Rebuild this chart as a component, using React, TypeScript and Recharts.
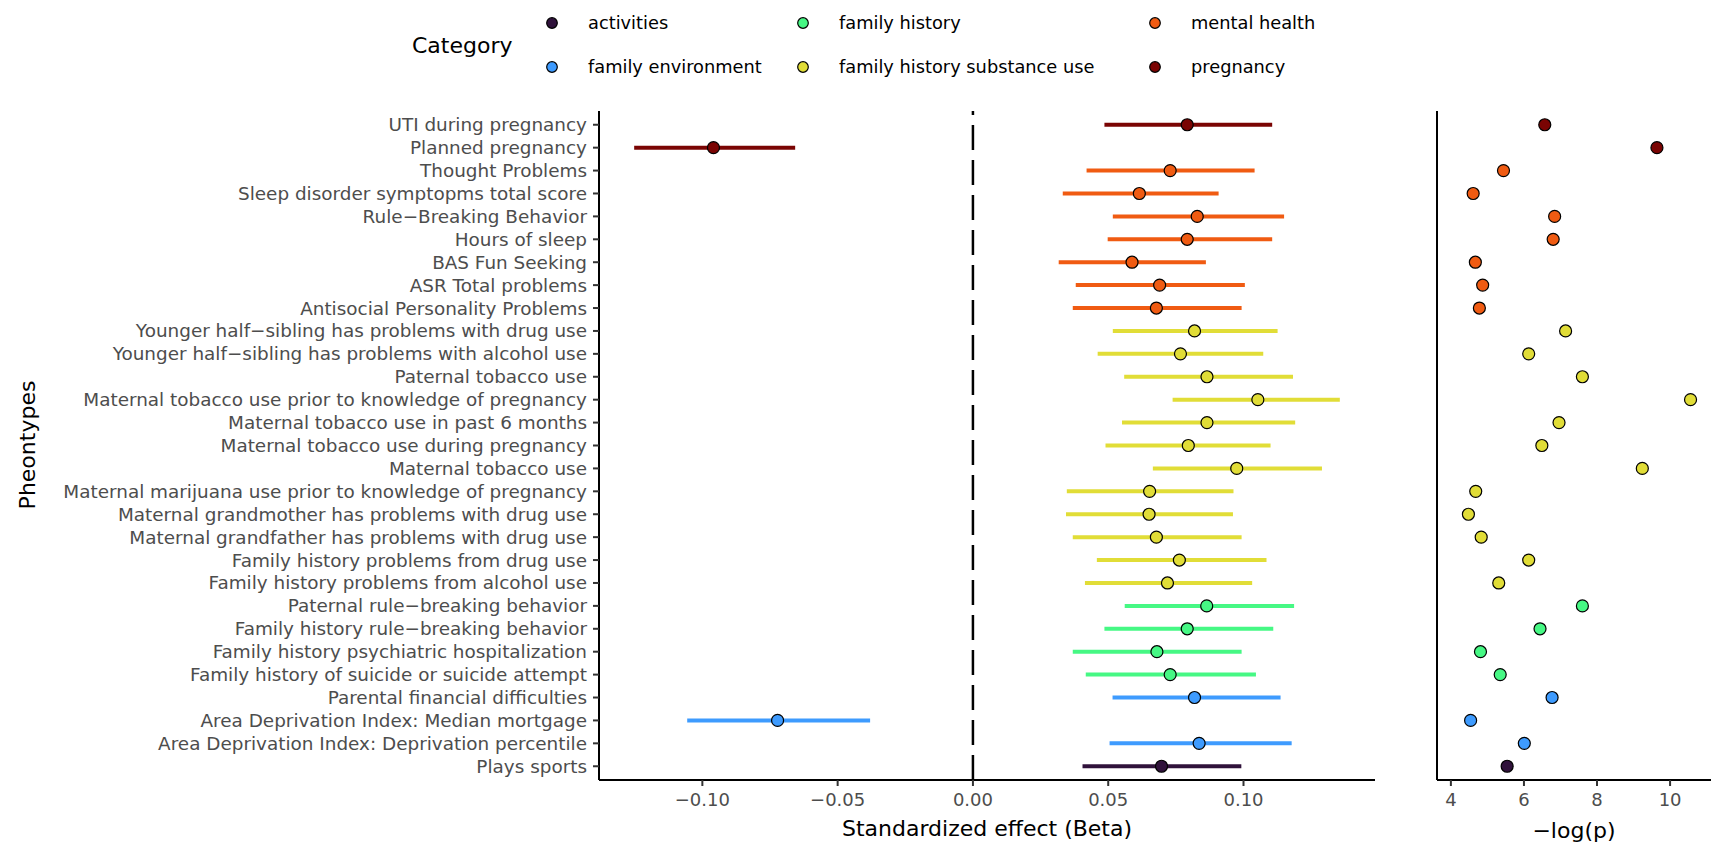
import { ScatterChart, Scatter, XAxis, YAxis, ErrorBar, ReferenceLine } from 'recharts';

const phenotypes = [
  'UTI during pregnancy',
  'Planned pregnancy',
  'Thought Problems',
  'Sleep disorder symptopms total score',
  'Rule\u2212Breaking Behavior',
  'Hours of sleep',
  'BAS Fun Seeking',
  'ASR Total problems',
  'Antisocial Personality Problems',
  'Younger half\u2212sibling has problems with drug use',
  'Younger half\u2212sibling has problems with alcohol use',
  'Paternal tobacco use',
  'Maternal tobacco use prior to knowledge of pregnancy',
  'Maternal tobacco use in past 6 months',
  'Maternal tobacco use during pregnancy',
  'Maternal tobacco use',
  'Maternal marijuana use prior to knowledge of pregnancy',
  'Maternal grandmother has problems with drug use',
  'Maternal grandfather has problems with drug use',
  'Family history problems from drug use',
  'Family history problems from alcohol  use',
  'Paternal rule\u2212breaking behavior',
  'Family history rule\u2212breaking behavior',
  'Family history psychiatric hospitalization',
  'Family history of suicide or suicide attempt',
  'Parental financial difficulties',
  'Area Deprivation Index: Median mortgage',
  'Area Deprivation Index: Deprivation percentile',
  'Plays sports',
];

const rowCategory = [
  'pregnancy', 'pregnancy',
  'mental health', 'mental health', 'mental health', 'mental health',
  'mental health', 'mental health', 'mental health',
  'family history substance use', 'family history substance use', 'family history substance use',
  'family history substance use', 'family history substance use', 'family history substance use',
  'family history substance use', 'family history substance use', 'family history substance use',
  'family history substance use', 'family history substance use', 'family history substance use',
  'family history', 'family history', 'family history', 'family history',
  'family environment', 'family environment', 'family environment',
  'activities',
];

const beta = [
  0.0792, -0.0959, 0.0729, 0.0615, 0.0829, 0.0792, 0.0588, 0.069, 0.0678,
  0.0819, 0.0767, 0.0865, 0.1053, 0.0865, 0.0796, 0.0975, 0.0653, 0.0651,
  0.0678, 0.0763, 0.0719, 0.0864, 0.0792, 0.068, 0.0729, 0.0819, -0.0722,
  0.0836, 0.0697,
];

const betaLow = [
  0.0486, -0.1252, 0.042, 0.0332, 0.0517, 0.0498, 0.0317, 0.038, 0.0369,
  0.0517, 0.0461, 0.0559, 0.0738, 0.0551, 0.049, 0.0665, 0.0347, 0.0344,
  0.0369, 0.0458, 0.0414, 0.0561, 0.0486, 0.0369, 0.0417, 0.0516, -0.1056,
  0.0505, 0.0405,
];

const betaHigh = [
  0.1106, -0.0657, 0.1041, 0.0908, 0.115, 0.1106, 0.0861, 0.1005, 0.0993,
  0.1126, 0.1073, 0.1183, 0.1356, 0.1191, 0.11, 0.129, 0.0963, 0.0961,
  0.0993, 0.1085, 0.1032, 0.1187, 0.111, 0.0993, 0.1046, 0.1137, -0.038,
  0.1178, 0.0992,
];

const negLogP = [
  6.57, 9.64, 5.44, 4.61, 6.84, 6.8, 4.67, 4.87, 4.78,
  7.14, 6.13, 7.6, 10.56, 6.96, 6.49, 9.24, 4.68, 4.48,
  4.83, 6.13, 5.31, 7.6, 6.44, 4.81, 5.35, 6.77, 4.54,
  6.01, 5.54,
];

const categories = [
  'activities',
  'family environment',
  'family history',
  'family history substance use',
  'mental health',
  'pregnancy',
];

const categoryColors = ['#30123B', '#3E9BFE', '#46F884', '#E1DD37', '#F05B12', '#7A0403'];

const betaTicks = [-0.1, -0.05, 0, 0.05, 0.1];
const pTicks = [4, 6, 8, 10];

const rows = phenotypes.map((name, i) => ({
  name,
  y: i,
  category: rowCategory[i],
  beta: beta[i],
  err: [beta[i] - betaLow[i], betaHigh[i] - beta[i]],
  logp: negLogP[i],
}));

const rowIndex = phenotypes.map((_, i) => i);

const FONT = '"DejaVu Sans", sans-serif';
const TEXT_GREY = '#4D4D4D';

const fmtBeta = (v: number) => v.toFixed(2).replace('-', '\u2212');

function Dot(props: any) {
  const { cx, cy, fill } = props;
  return <circle cx={cx} cy={cy} r={6} fill={fill} stroke="#000" strokeWidth={1.2} />;
}

function RowLabel(props: any) {
  const { x, y, payload } = props;
  return (
    <text x={x} y={y} dy="0.355em" textAnchor="end" fill={TEXT_GREY} fontSize={18.4} fontFamily={FONT}>
      {phenotypes[payload.value]}
    </text>
  );
}

const tickStyle = { fill: TEXT_GREY, fontSize: 18, fontFamily: FONT };
const axisLine = { stroke: '#000', strokeWidth: 2 };
const tickLine = { stroke: '#333', strokeWidth: 2 };

function EffectPanel() {
  return (
    <ScatterChart width={1390} height={843} margin={{ top: 111, right: 15, bottom: 33, left: 0 }}>
      <XAxis
        type="number"
        dataKey="beta"
        domain={[-0.1382, 0.1486]}
        allowDataOverflow
        ticks={betaTicks}
        tickFormatter={fmtBeta}
        height={30}
        tickSize={6}
        tickMargin={7}
        tick={tickStyle}
        axisLine={axisLine}
        tickLine={tickLine}
      />
      <YAxis
        type="number"
        dataKey="y"
        domain={[-0.6, 28.6]}
        allowDataOverflow
        reversed
        ticks={rowIndex}
        interval={0}
        width={599}
        tickSize={6}
        tickMargin={6}
        tick={<RowLabel />}
        axisLine={axisLine}
        tickLine={tickLine}
      />
      <ReferenceLine x={0} stroke="#000" strokeWidth={2.5} strokeDasharray="25 10" />
      {categories.map((cat, ci) => (
        <Scatter
          key={cat}
          data={rows.filter((r) => r.category === cat)}
          fill={categoryColors[ci]}
          shape={<Dot />}
          isAnimationActive={false}
        >
          <ErrorBar
            dataKey="err"
            direction="x"
            width={0}
            stroke={categoryColors[ci]}
            strokeWidth={4}
            isAnimationActive={false}
          />
        </Scatter>
      ))}
    </ScatterChart>
  );
}

function PValuePanel() {
  return (
    <ScatterChart width={321} height={843} margin={{ top: 111, right: 0, bottom: 33, left: 0 }}>
      <XAxis
        type="number"
        dataKey="logp"
        domain={[3.62, 11.12]}
        allowDataOverflow
        ticks={pTicks}
        height={30}
        tickSize={6}
        tickMargin={7}
        tick={tickStyle}
        axisLine={axisLine}
        tickLine={tickLine}
      />
      <YAxis
        type="number"
        dataKey="y"
        domain={[-0.6, 28.6]}
        allowDataOverflow
        reversed
        ticks={rowIndex}
        interval={0}
        width={47}
        tickSize={6}
        tick={false}
        axisLine={axisLine}
        tickLine={tickLine}
      />
      {categories.map((cat, ci) => (
        <Scatter
          key={cat}
          data={rows.filter((r) => r.category === cat)}
          fill={categoryColors[ci]}
          shape={<Dot />}
          isAnimationActive={false}
        />
      ))}
    </ScatterChart>
  );
}

// legend is column-major, 2 rows x 3 columns like ggplot's guide
const legendColX = [552, 803, 1155];
const legendRowY = [23, 67];

function Overlay() {
  return (
    <svg width={1711} height={843} style={{ position: 'absolute', left: 0, top: 0, pointerEvents: 'none' }}>
      <text x={412} y={45} dy="0.355em" fontSize={22} fontFamily={FONT} fill="#000">
        Category
      </text>
      {categories.map((cat, i) => {
        const x = legendColX[Math.floor(i / 2)];
        const y = legendRowY[i % 2];
        return (
          <g key={cat}>
            <circle cx={x} cy={y} r={5.3} fill={categoryColors[i]} stroke="#000" strokeWidth={1.2} />
            <text x={x + 36} y={y} dy="0.355em" fontSize={17.8} fontFamily={FONT} fill="#000">
              {cat}
            </text>
          </g>
        );
      })}
      <text
        x={27}
        y={445}
        transform="rotate(-90 27 445)"
        textAnchor="middle"
        dy="0.355em"
        fontSize={22}
        fontFamily={FONT}
        fill="#000"
      >
        Pheontypes
      </text>
      <text x={987} y={828} dy="0.355em" textAnchor="middle" fontSize={22} fontFamily={FONT} fill="#000">
        Standardized effect (Beta)
      </text>
      <text x={1574} y={830} dy="0.355em" textAnchor="middle" fontSize={22} fontFamily={FONT} fill="#000">
        {'\u2212log(p)'}
      </text>
    </svg>
  );
}

export default function App() {
  return (
    <div style={{ position: 'absolute', left: 0, top: 0, width: 1711, height: 843, background: '#fff' }}>
      <div style={{ position: 'absolute', left: 0, top: 0 }}>
        <EffectPanel />
      </div>
      <div style={{ position: 'absolute', left: 1390, top: 0 }}>
        <PValuePanel />
      </div>
      <Overlay />
    </div>
  );
}
